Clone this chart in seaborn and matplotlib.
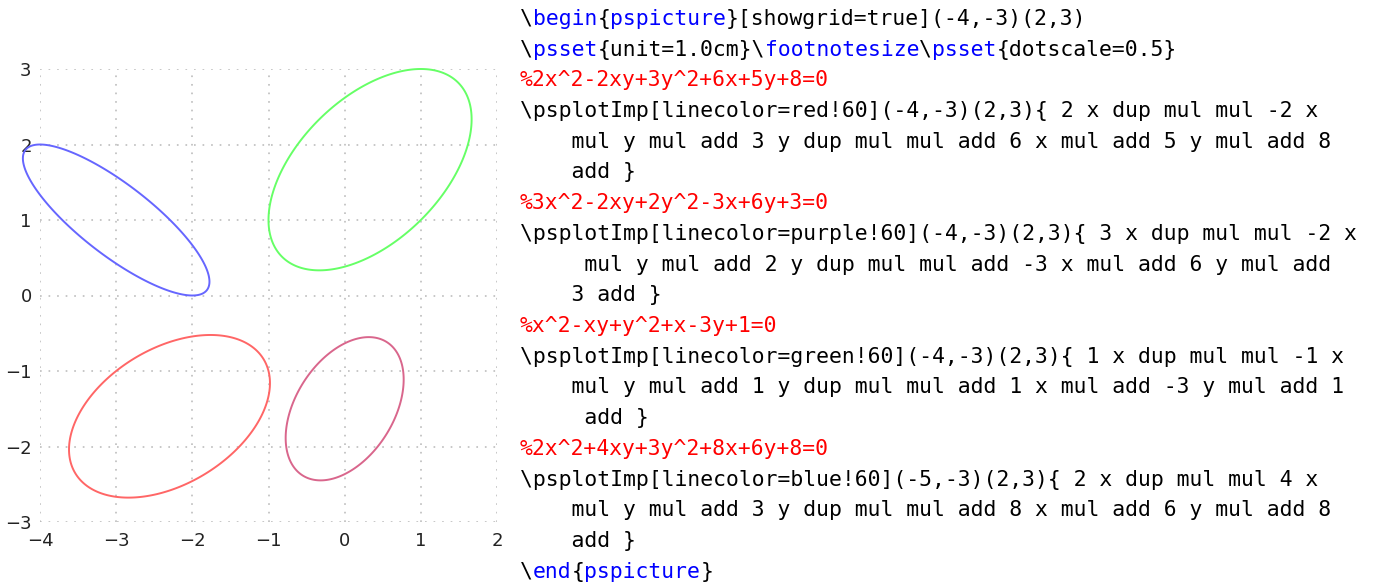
import numpy as np
import matplotlib
matplotlib.use("Agg")
import matplotlib.pyplot as plt
import seaborn as sns

# conic coefficients: a x^2 + b xy + c y^2 + d x + e y + f = 0
curve_names = ["red", "purple", "green", "blue"]
curve_coefs = [
    [2, -2, 3, 6, 5, 8],
    [3, -2, 2, -3, 6, 3],
    [1, -1, 1, 1, -3, 1],
    [2, 4, 3, 8, 6, 8],
]
# plotting range of each \psplotImp call (xmin, ymin, xmax, ymax)
curve_ranges = [
    [-4, -3, 2, 3],
    [-4, -3, 2, 3],
    [-4, -3, 2, 3],
    [-5, -3, 2, 3],
]
# xcolor name!60 mixed with white
curve_colors = ["#ff6666", "#d9668c", "#66ff66", "#6666ff"]

x_ticks = [-4, -3, -2, -1, 0, 1, 2]
y_ticks = [-3, -2, -1, 0, 1, 2, 3]

BLUE = "#0000ff"
RED = "#ff0000"
BLACK = "#000000"
code_lines = [
    [("\\", BLACK), ("begin", BLUE), ("{", BLACK), ("pspicture", BLUE),
     ("}[showgrid=true](-4,-3)(2,3)", BLACK)],
    [("\\", BLACK), ("psset", BLUE), ("{unit=1.0cm}\\", BLACK), ("footnotesize", BLUE),
     ("\\", BLACK), ("psset", BLUE), ("{dotscale=0.5}", BLACK)],
    [("%2x^2-2xy+3y^2+6x+5y+8=0", RED)],
    [("\\psplotImp[linecolor=red!60](-4,-3)(2,3){ 2 x dup mul mul -2 x", BLACK)],
    [("    mul y mul add 3 y dup mul mul add 6 x mul add 5 y mul add 8", BLACK)],
    [("    add }", BLACK)],
    [("%3x^2-2xy+2y^2-3x+6y+3=0", RED)],
    [("\\psplotImp[linecolor=purple!60](-4,-3)(2,3){ 3 x dup mul mul -2 x", BLACK)],
    [("     mul y mul add 2 y dup mul mul add -3 x mul add 6 y mul add", BLACK)],
    [("    3 add }", BLACK)],
    [("%x^2-xy+y^2+x-3y+1=0", RED)],
    [("\\psplotImp[linecolor=green!60](-4,-3)(2,3){ 1 x dup mul mul -1 x", BLACK)],
    [("    mul y mul add 1 y dup mul mul add 1 x mul add -3 y mul add 1", BLACK)],
    [("     add }", BLACK)],
    [("%2x^2+4xy+3y^2+8x+6y+8=0", RED)],
    [("\\psplotImp[linecolor=blue!60](-5,-3)(2,3){ 2 x dup mul mul 4 x", BLACK)],
    [("    mul y mul add 3 y dup mul mul add 8 x mul add 6 y mul add 8", BLACK)],
    [("    add }", BLACK)],
    [("\\", BLACK), ("end", BLUE), ("{", BLACK), ("pspicture", BLUE), ("}", BLACK)],
]

sns.set_theme(style="white")
plt.rcParams["font.family"] = ["DejaVu Sans"]

W, H = 1378, 582
fig = plt.figure(figsize=(W / 100, H / 100), dpi=100)
fig.patch.set_facecolor("white")
ax = fig.add_axes([40 / W, 1 - 522 / H, 457 / W, 453 / H])
ax.set_facecolor("white")

for coefs, rng, col in zip(curve_coefs, curve_ranges, curve_colors):
    a, b, c, d, e, f = coefs
    gx = np.linspace(rng[0], rng[2], 700)
    gy = np.linspace(rng[1], rng[3], 700)
    X, Y = np.meshgrid(gx, gy)
    Z = a * X**2 + b * X * Y + c * Y**2 + d * X + e * Y + f
    cs = ax.contour(X, Y, Z, levels=[0], colors=[col], linewidths=1.4)
    cs.set_clip_on(False)

ax.set_xlim(-4, 2)
ax.set_ylim(-3, 3)
ax.set_xticks(x_ticks)
ax.set_yticks(y_ticks)
ax.set_xticklabels([str(v).replace("-", "\u2212") for v in x_ticks])
ax.set_yticklabels([str(v).replace("-", "\u2212") for v in y_ticks])
ax.tick_params(length=0, labelsize=13, colors="#222222")
ax.tick_params(axis="x", pad=7)
ax.tick_params(axis="y", pad=6)
ax.grid(True, color="#b8b8b8", linewidth=1.1, linestyle=(0, (1.1, 4.5)))
for s in ax.spines.values():
    s.set_visible(False)
ax.set_axisbelow(True)

# code listing
char_w = 12.88
x0 = 520
y0 = 25
line_h = 30.7
for i, segs in enumerate(code_lines):
    n = 0
    for txt, col in segs:
        fig.text((x0 + n * char_w) / W, 1 - (y0 + i * line_h) / H, txt,
                 family="DejaVu Sans Mono", fontsize=15.4, color=col,
                 ha="left", va="baseline")
        n += len(txt)

fig.savefig("out.png", dpi=100)
